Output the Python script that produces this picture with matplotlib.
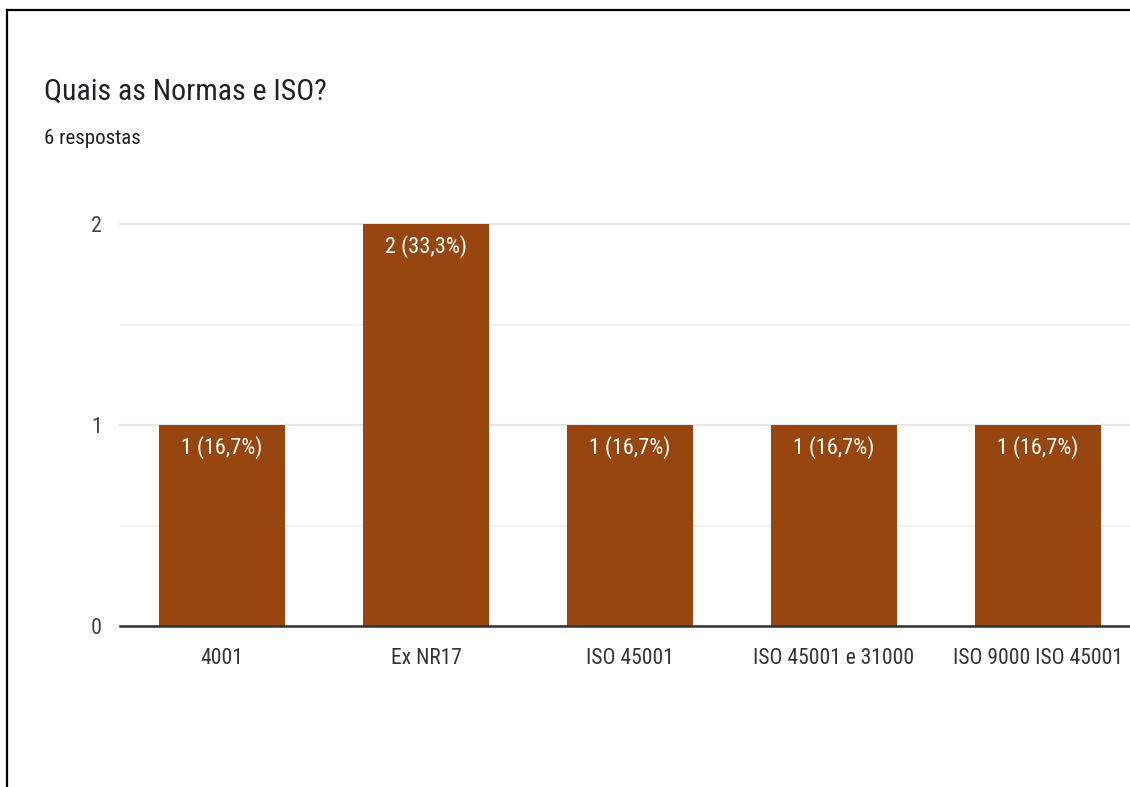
import numpy as np
import matplotlib.pyplot as plt
from matplotlib.lines import Line2D

plt.rcParams['font.family'] = ['Roboto Condensed', 'Roboto', 'DejaVu Sans']

categories = ['4001', 'Ex NR17', 'ISO 45001', 'ISO 45001 e 31000', 'ISO 9000 ISO 45001']
counts = [1, 2, 1, 1, 1]
percents = ['16,7%', '33,3%', '16,7%', '16,7%', '16,7%']
title = 'Quais as Normas e ISO?'
subtitle = '6 respostas'

bar_color = '#97460f'

W, H = 1130, 787
fig = plt.figure(figsize=(W / 100, H / 100), dpi=100)
fig.patch.set_facecolor('white')

# frame edges on the left and top
fig.add_artist(Line2D([7 / W, 7 / W], [0, 1 - 10 / H], color='black', lw=1.6))
fig.add_artist(Line2D([7 / W, 1], [1 - 10 / H, 1 - 10 / H], color='black', lw=1.6))

fig.text(44 / W, 1 - 92 / H, title, fontsize=21.5, color='#202124', va='center', ha='left')
fig.text(44 / W, 1 - 138 / H, subtitle, fontsize=15, color='#202124', va='center', ha='left')

ax = fig.add_axes([120 / W, 1 - 626 / H, 1020 / W, 402 / H])
x = np.arange(len(categories))
bars = ax.bar(x, counts, width=0.62, color=bar_color, zorder=3)

for rect, c, p in zip(bars, counts, percents):
    ax.annotate('{} ({})'.format(c, p),
                xy=(rect.get_x() + rect.get_width() / 2, rect.get_height()),
                xytext=(0, -23), textcoords='offset pixels',
                ha='center', va='center', color='white', fontsize=16, zorder=4)

ax.set_xlim(-0.5, len(categories) - 0.5)
ax.set_ylim(0, 2)
ax.set_yticks([0, 1, 2])
ax.set_yticks([0.5, 1.5], minor=True)
ax.grid(which='major', axis='y', color='#e6e6e6', lw=1.5, zorder=0)
ax.grid(which='minor', axis='y', color='#f2f2f2', lw=1.5, zorder=0)
for g in ax.get_ygridlines():
    g.set_clip_on(False)

ax.set_xticks(x)
ax.set_xticklabels(categories)
ax.tick_params(axis='x', length=0, pad=16, labelsize=15.5, labelcolor='#333333')
ax.tick_params(axis='y', which='both', length=0, pad=13, labelsize=16, labelcolor='#444444')

for s in ['top', 'right', 'left']:
    ax.spines[s].set_visible(False)
ax.spines['bottom'].set_color('#333333')
ax.spines['bottom'].set_linewidth(1.8)
ax.spines['bottom'].set_zorder(5)

fig.savefig('out.png', dpi=100)
